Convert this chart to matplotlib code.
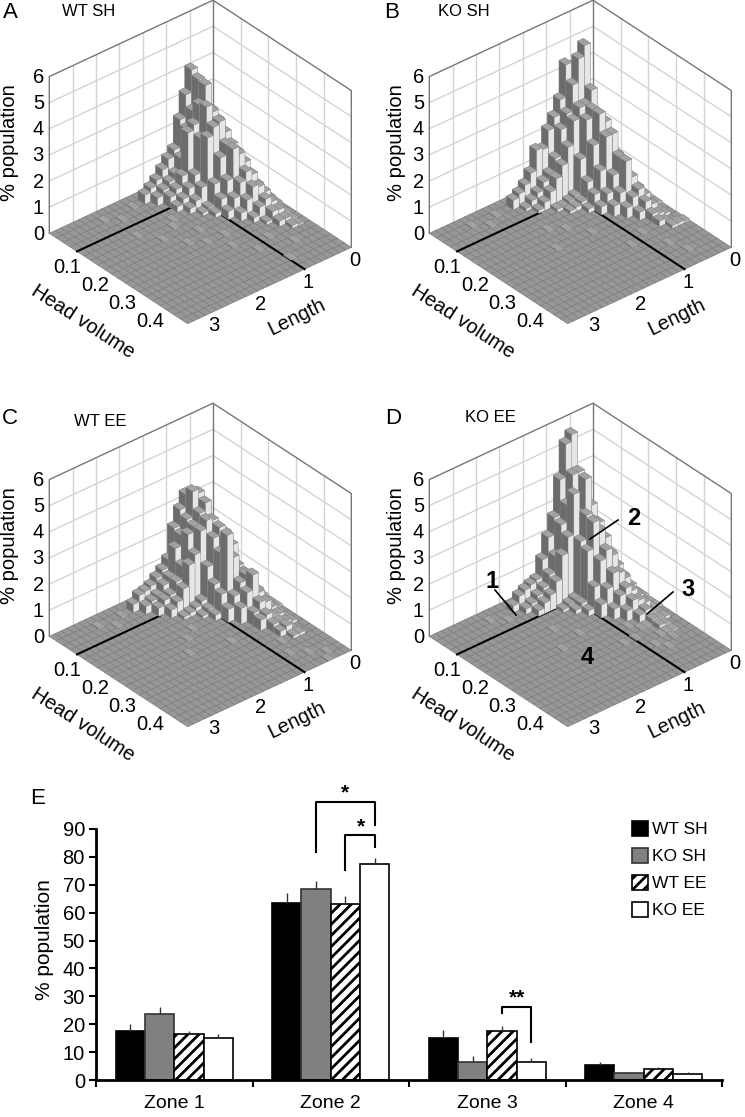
import matplotlib
matplotlib.use('Agg')
import numpy as np
import matplotlib.pyplot as plt
from matplotlib.lines import Line2D
from matplotlib.patches import Patch
from mpl_toolkits.mplot3d import proj3d

plt.rcParams['font.family'] = ['Liberation Sans', 'DejaVu Sans']
plt.rcParams['hatch.linewidth'] = 2.0

W, H = 745, 1117

# histogram heights, rows = head volume bin, columns = length bin (% population)
wt_sh = [
    [0, 0, .1, .2, .4, .6, .5, .4, .3, .1],
    [0, .1, .5, 1.2, 2.5, 4.3, 3.45, 2.6, 1.55, 1.3, 1.0, .7, .5, .34],
    [0, .2, .7, 1.5, 2.8, 4.1, 3.0, 2.4, 1.4, .9, .7, .5, .3],
    [0, .2, .9, 1.8, 3.0, 4.05, 3.4, 2.75, 2.55, 1.0, .6, .4],
    [.1, .3, 1.0, 2.0, 2.8, 3.2, 3.5, 2.4, 1.1, .7, .4, .2],
    [.1, .4, 1.1, 1.9, 2.5, 3.0, 2.9, 2.6, .8, .4, .2],
    [.1, .4, 1.0, 1.8, 2.2, 2.3, 1.9, 1.0, .2, .1],
    [.1, .4, .9, 1.6, 2.0, 2.3, 1.2, .6, .15],
    [.1, .3, .8, 1.3, 1.5, 1.2, .7, .3],
    [.05, .3, .7, 1.0, 1.1, .7, .3],
    [0, .2, .5, .7, .5, .2],
    [0, .15, .35, .4, .1],
    [0, .1, .2, .2],
    [0, .05, .1],
]
ko_sh = [
    [0, 0, .1, .3, .5, .8, .8, .7, .5, .3, .1],
    [0, .1, .4, 1.2, 3, 4.4, 4.6, 3.37, 2.8, 2.4, 1.77, 1.85, 1.08, .73, .5, .35],
    [0, .2, .7, 2, 5.3, 4.9, 4.0, 3.0, 2.5, 1.5, 1.0, .8, .5, .3, .1],
    [0, .2, .9, 2.2, 3.76, 3.3, 3.3, 2.9, 2.0, 1.4, 1.0, .6, .3, .1],
    [.1, .3, 1.0, 2, 3, 3.3, 3.0, 1.6, .3, .2, .1, .1],
    [.1, .3, 1.1, 2, 2.9, 3.3, 2.2, .9, .25, .15, .1],
    [.1, .3, 1.0, 1.7, 2.6, 2.6, 1.4, .6, .15],
    [.1, .3, .8, 1.4, 1.9, 1.3, .7, .3],
    [.05, .2, .7, 1.2, 1.9, .8, .4],
    [.05, .15, .6, .9, .7, .4],
    [0, .1, .4, .6, .3],
    [0, .1, .2, .3],
    [0, 0, .1, .2],
    [.05, .1, .1],
]
wt_ee = [
    [0, 0, .1, .2, .4, .6, .7, .6, .5, .3, .1],
    [0, .1, .4, 1, 2, 3, 3.57, 3.1, 2.5, 1.4, 1.1, .9, .7, .6, .55, .3],
    [0, .2, .6, 1.2, 2.6, 3.7, 3.86, 2.9, 2.4, 2.0, 1.0, .8, .5, .4, .3],
    [0, .2, .8, 1.5, 2.6, 3.5, 3.2, 2.8, 2.6, 1.5, 1.0, .6, .5, .3],
    [.1, .3, .9, 1.6, 2.6, 3.0, 3.1, 2.8, 2.0, 1.7, .9, .5, .3],
    [.1, .3, 1.0, 1.6, 2.6, 2.9, 2.6, 1.6, .4, .25, .15, .1],
    [.1, .3, .9, 1.4, 2.3, 2.6, 2.2, 1.1, .25, .1],
    [.1, .3, .8, 1.3, 1.4, 2.1, 3.05, .9, .2],
    [.05, .2, .7, 1.1, 1.5, 1.3, .9, .5],
    [.05, .2, .5, .9, 1.67, 1.1, .6],
    [0, .15, .4, .7, .8, .5],
    [0, .1, .3, .35, .5, .4],
    [0, .1, .2, .3, .3],
    [0, 0, .1, .3, .2],
    [0, 0, .1, .1],
]
ko_ee = [
    [0, 0, .1, .2, .4, .6, .7, .5, .3, .1],
    [0, .1, .5, 1.2, 3, 5.77, 5.5, 4.25, 2.9, 2.25, 1.5, .83, .75, .65, .52, .25],
    [0, .2, .7, 1.5, 3.3, 4.5, 4.5, 3.45, 2.8, 1.7, 1.1, .7, .5, .3, .2],
    [0, .2, .9, 1.8, 3.3, 4.4, 3.15, 4.03, 2.5, 1.9, 1.0, .6, .4, .2],
    [.1, .3, 1, 1.8, 2.8, 3.0, 3.3, 2.4, .3, .2, .1],
    [.1, .3, 1, 1.7, 2.4, 2.8, 3.2, 2.2, .3, .15],
    [.1, .3, .9, 1.4, 1.9, 2.2, 1.9, 1.0, .2],
    [.1, .3, .7, 1.1, 1.4, 1.5, 1.0, .5],
    [.05, .2, .5, .8, 1.0, .8, .4],
    [.05, .15, .4, .6, .7, .4],
    [0, .1, .2, .4, .3],
    [0, .1, .15, .2],
    [0, 0, .1, .15],
    [0, 0, .05, .05],
]

# tiny bars scattered over the floor, (length bin, head volume bin)
specks_a = [(15, 1), (18, 2), (20, 1), (13, 5), (14, 6), (12, 8), (15, 9), (17, 7), (10, 10),
            (19, 5), (6, 13), (4, 15), (9, 14), (11, 12), (7, 17), (13, 10)]
specks_b = [(18, 1), (20, 2), (22, 1), (15, 6), (13, 7), (11, 9), (17, 9), (6, 12), (5, 15), (4, 17), (9, 13)]
specks_c = [(17, 1), (19, 2), (21, 1), (12, 7), (14, 8), (10, 11), (16, 10), (5, 14), (4, 17),
            (3, 19), (6, 16), (2, 18)]
specks_d = [(17, 2), (19, 1), (14, 6), (12, 8), (16, 9), (6, 10), (5, 11), (7, 12), (4, 13), (6, 14),
            (3, 14), (5, 15), (9, 12), (4, 11)]

panel_data = [wt_sh, ko_sh, wt_ee, ko_ee]
panel_specks = [specks_a, specks_b, specks_c, specks_d]
panel_letters = ['A', 'B', 'C', 'D']
panel_titles = ['WT SH', 'KO SH', 'WT EE', 'KO EE']
# where the back corner of the floor sits, in picture pixels
panel_backs = [(213, 157), (593, 157), (213, 560), (593, 560)]
letter_pos = [(10, 12), (392, 12), (10, 419), (393, 419)]
title_pos = [(89, 11), (464, 11), (100, 422), (490, 418)]
# where the zone lines stop inside the floor
zone_line_ends = [(1.48, .143), (1.72, .1), (1.73, .126), (1.0, .08)]

zones = ['Zone 1', 'Zone 2', 'Zone 3', 'Zone 4']
groups = ['WT SH', 'KO SH', 'WT EE', 'KO EE']
zone_means = [[17.5, 63.5, 15, 5.5], [23.5, 68.5, 6.5, 2.5], [16.5, 63, 17.5, 4], [15, 77.5, 6.5, 2]]
zone_errs = [[2.5, 3.5, 3, 1], [2.5, 3, 2, .5], [1, 3, 2, .8], [1.5, 2, 1.5, 1]]

L_BINS, H_BINS = 28, 20
L_MAX, H_MAX, Z_MAX = 3.5, .5, 6
dl, dh = L_MAX / L_BINS, H_MAX / H_BINS


def px(x, y):
    return x / W, 1 - y / H


def screen(ax, l, h, z):
    ax.apply_aspect()
    x2, y2, _ = proj3d.proj_transform(l, h, z, ax.get_proj())
    sx, sy = ax.transData.transform((x2, y2))
    return sx, H - sy


def place_axes(ax, back):
    # scale the square axes until the floor spans 302 px, then slide it to the back corner
    side = 500.0
    ax.set_position([0, 0, side / W, side / H])
    x0, _ = screen(ax, L_MAX, 0, 0)
    x1, _ = screen(ax, 0, H_MAX, 0)
    side = side * 302.0 / (x1 - x0)
    ax.set_position([0, 0, side / W, side / H])
    sx, sy = screen(ax, 0, 0, 0)
    ax.set_position([(back[0] - sx) / W, (sy - back[1]) / H, side / W, side / H])


def draw_panel(k):
    heights, back = panel_data[k], panel_backs[k]
    line_end = zone_line_ends[k]
    ax = fig.add_axes([0, 0, .5, .5], projection='3d', proj_type='ortho', computed_zorder=False)
    ax.view_init(elev=33.5, azim=49.8)
    ax.set_box_aspect((212, 212, 186))
    ax.set_axis_off()
    ax.patch.set_alpha(0)

    # walls
    grid = dict(color='#d4d4d4', lw=1.0, zorder=1)
    frame = dict(color='#777777', lw=1.0, zorder=2)
    for l in np.arange(.5, L_MAX, .5):
        ax.plot([l, l], [0, 0], [0, Z_MAX], **grid)
    for h in np.arange(.1, H_MAX, .1):
        ax.plot([0, 0], [h, h], [0, Z_MAX], **grid)
    for z in range(1, Z_MAX):
        ax.plot([L_MAX, 0, 0], [0, 0, H_MAX], [z, z, z], **grid)
    ax.plot([L_MAX, L_MAX, 0, 0, 0], [0, 0, 0, H_MAX, H_MAX], [0, Z_MAX, Z_MAX, Z_MAX, 0], **frame)
    ax.plot([0, 0], [0, 0], [0, Z_MAX], **frame)

    # floor
    lg, hg = np.meshgrid(np.linspace(0, L_MAX, L_BINS + 1), np.linspace(0, H_MAX, H_BINS + 1))
    ax.plot_surface(lg, hg, np.zeros_like(lg), rstride=1, cstride=1, color='#979797',
                    edgecolor='#7e7e7e', linewidth=.5, shade=False, zorder=3)

    # zone lines
    ax.plot([L_MAX, line_end[0]], [.1, .1], [0, 0], color='black', lw=1.5, zorder=4)
    ax.plot([1, 1], [H_MAX, line_end[1]], [0, 0], color='black', lw=1.5, zorder=4)

    # bars, drawn from the back corner to the front so they overlap properly
    face_colors = ['#8a8a8a', '#a2a2a2', '#8a8a8a', '#e6e6e6', '#8a8a8a', '#6c6c6c']
    cells = [(j, i, v) for i, row in enumerate(heights) for j, v in enumerate(row) if v > 0]
    cells += [(j, i, .03) for j, i in panel_specks[k]]
    cells.sort(key=lambda c: c[1] * dh / H_MAX + c[0] * dl / L_MAX)
    for n, (j, i, v) in enumerate(cells):
        ax.bar3d(j * dl, i * dh, 0, dl, dh, v, color=face_colors, shade=False,
                 edgecolor='#808080', linewidth=.2, zorder=5 + n)

    ax.set_xlim(0, L_MAX)
    ax.set_ylim(0, H_MAX)
    ax.set_zlim(0, Z_MAX)
    place_axes(ax, back)

    # tick labels and axis names sit just outside the box
    def label(l, h, z, s):
        sx, sy = screen(ax, l, h, z)
        fx, fy = px(sx, sy)
        fig.text(fx, fy, s, ha='center', va='center', fontsize=14.5)

    for z in range(0, Z_MAX + 1):
        sx, sy = screen(ax, L_MAX, 0, z)
        fx, fy = px(sx - 11, sy + 1)
        fig.text(fx, fy, str(z), ha='center', va='center', fontsize=14.5)
    for h in [.1, .2, .3, .4]:
        label(L_MAX + .43, h + .037, 0, '%.1f' % h)
    for l in [0, 1, 2, 3]:
        label(l + .21, H_MAX + .047, 0, str(l))

    bx, by = back
    fx, fy = px(bx - 130, by + 165)
    fig.text(fx, fy, 'Head volume', rotation=-33, ha='center', va='center', fontsize=14.5)
    fx, fy = px(bx + 84, by + 160)
    fig.text(fx, fy, 'Length', rotation=26, ha='center', va='center', fontsize=14.5)
    fx, fy = px(bx - 203 + (k % 2) * 6, by - 14)
    fig.text(fx, fy, '% population', rotation=90, ha='center', va='center', fontsize=14.5)

    fx, fy = px(*letter_pos[k])
    fig.text(fx, fy, panel_letters[k], ha='center', va='center', fontsize=16)
    fx, fy = px(*title_pos[k])
    fig.text(fx, fy, panel_titles[k], ha='center', va='center', fontsize=12)


fig = plt.figure(figsize=(W / 100, H / 100), dpi=100)

for k in range(4):
    draw_panel(k)

# zone numbers on panel D
for label, tx, ty in [('1', 492, 582), ('2', 634, 519), ('3', 688, 590), ('4', 587, 657)]:
    fx, fy = px(tx, ty)
    fig.text(fx, fy, label, ha='center', va='center', fontsize=17, fontweight='bold')
for (x0, y0), (x1, y1) in [((495, 590), (516, 615)), ((618, 520), (590, 539)), ((673, 592), (647, 614))]:
    a, b = px(x0, y0), px(x1, y1)
    fig.add_artist(Line2D([a[0], b[0]], [a[1], b[1]], color='black', lw=1.2))

# panel E
bar_ax = fig.add_axes([96 / W, 1 - 1080 / H, (722 - 96) / W, (1080 - 829) / H])
styles = [dict(facecolor='black', edgecolor='black'),
          dict(facecolor='#808080', edgecolor='#333333'),
          dict(facecolor='white', edgecolor='black', hatch='///'),
          dict(facecolor='white', edgecolor='black')]
width = .187
xpos = np.arange(len(zones))
for k, group in enumerate(groups):
    offs = xpos + (k - 1.5) * width
    bar_ax.bar(offs, zone_means[k], width, linewidth=1.2, **styles[k])
    bar_ax.errorbar(offs, zone_means[k], yerr=[np.zeros(4), zone_errs[k]], fmt='none',
                    ecolor='#333333', elinewidth=1.0, capsize=0)

bar_ax.set_xlim(-.5, 3.5)
bar_ax.set_ylim(0, 90)
bar_ax.set_yticks(range(0, 100, 10))
bar_ax.set_xticks(np.arange(-.5, 4, 1))
bar_ax.set_xticklabels([])
bar_ax.set_xticks(xpos, minor=True)
bar_ax.set_xticklabels(zones, minor=True)
bar_ax.tick_params(axis='x', which='minor', length=0, labelsize=14, pad=11)
bar_ax.tick_params(axis='x', which='major', length=5, width=1.5)
bar_ax.tick_params(axis='y', length=5, width=1.5, labelsize=14.5, pad=3)
bar_ax.set_ylabel('% population', fontsize=15, labelpad=6, y=.56)
for side in ['top', 'right']:
    bar_ax.spines[side].set_visible(False)
for side in ['left', 'bottom']:
    bar_ax.spines[side].set_linewidth(2)

# significance brackets
bracket = dict(color='black', lw=1.5, clip_on=False)
bar_ax.plot([.907, .907, 1.28, 1.28], [81.7, 99.6, 99.6, 91.4], **bracket)
bar_ax.plot([1.093, 1.093, 1.28, 1.28], [75.3, 87.8, 87.8, 83.5], **bracket)
bar_ax.plot([2.093, 2.093, 2.28, 2.28], [24, 26.2, 26.2, 13.6], **bracket)
bar_ax.text(1.09, 99.5, '*', ha='center', va='bottom', fontsize=15, fontweight='bold')
bar_ax.text(1.19, 87.5, '*', ha='center', va='bottom', fontsize=15, fontweight='bold')
bar_ax.text(2.19, 26, '**', ha='center', va='bottom', fontsize=15, fontweight='bold')

handles = [Patch(label=g, linewidth=1.2, **styles[k]) for k, g in enumerate(groups)]
fig.legend(handles=handles, loc='upper left', bbox_to_anchor=px(632, 821), frameon=False, fontsize=12.5,
           handlelength=.95, handleheight=.95, handletextpad=.2, labelspacing=.6, borderpad=0, borderaxespad=0)

fx, fy = px(38, 799)
fig.text(fx, fy, 'E', ha='center', va='center', fontsize=16)

fig.savefig('out.png', dpi=100)
